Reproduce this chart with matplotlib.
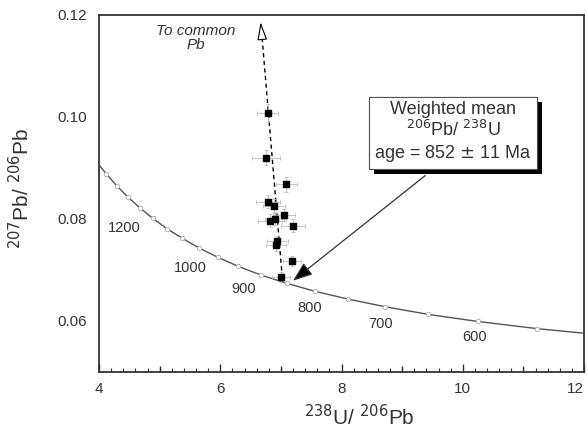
import matplotlib.pyplot as plt
import matplotlib.patheffects as pe
from matplotlib.ticker import MultipleLocator, FixedLocator

plt.rcParams['font.family'] = ['Liberation Sans', 'DejaVu Sans']

# concordia curve (Tera-Wasserburg)
conc_x = [4.000, 4.123, 4.292, 4.476, 4.673, 4.888, 5.120, 5.375, 5.653, 5.959,
          6.298, 6.674, 7.095, 7.568, 8.105, 8.718, 9.426, 10.252, 11.228, 12.000]
conc_y = [0.0906, 0.0888, 0.0865, 0.0843, 0.0822, 0.0801, 0.0781, 0.0762, 0.0743, 0.0725,
          0.0707, 0.0690, 0.0674, 0.0658, 0.0643, 0.0628, 0.0613, 0.0599, 0.0585, 0.0576]
# age ticks every 50 Ma (indices 1..18 of the curve)
tick_idx = list(range(1, 19))

age_labels = ['1200', '1000', '900', '800', '700', '600']
age_lab_x = [4.41, 5.50, 6.38, 7.47, 8.65, 10.19]
age_lab_y = [0.0783, 0.0704, 0.0663, 0.0626, 0.0594, 0.0568]

# zircon analyses
pt_x = [6.78, 6.76, 7.09, 6.79, 6.89, 7.05, 6.82, 6.91, 7.20, 6.94, 6.92, 7.18, 7.00]
pt_y = [0.1008, 0.0920, 0.0868, 0.0834, 0.0826, 0.0808, 0.0797, 0.0800, 0.0787, 0.0756,
        0.0749, 0.0717, 0.0687]
pt_xerr = [0.18, 0.23, 0.17, 0.20, 0.18, 0.18, 0.20, 0.18, 0.20, 0.17, 0.17, 0.15, 0.15]
pt_yerr = [0.0018, 0.0015, 0.0015, 0.0013, 0.0013, 0.0012, 0.0012, 0.0012, 0.0012, 0.0011,
           0.0011, 0.0010, 0.0010]

# regression line to common Pb
reg_x = [6.69, 7.03]
reg_y = [0.1155, 0.0675]

fig = plt.figure(figsize=(5.87, 4.33), dpi=100)
ax = fig.add_axes([0.1687, 0.1409, 0.8262, 0.8245])

gray = '#333333'
ax.plot(conc_x, conc_y, color='#555555', lw=1.0, zorder=2)
ax.plot([conc_x[i] for i in tick_idx], [conc_y[i] for i in tick_idx], 'o', ms=3.2,
        mfc='white', mec='#aaaaaa', mew=0.6, ls='none', zorder=3)
for lab, lx, ly in zip(age_labels, age_lab_x, age_lab_y):
    ax.text(lx, ly, lab, fontsize=10.5, color=gray, ha='center', va='center')

ax.plot(reg_x, reg_y, ls=(0, (3, 2.5)), color='black', lw=1.0, zorder=2)
ax.annotate('', xy=(6.665, 0.1186), xytext=(6.69, 0.1155),
            arrowprops=dict(arrowstyle='-|>,head_length=1.1,head_width=0.3',
                            fc='white', ec='black', lw=0.8, shrinkA=0, shrinkB=0))
ax.text(5.60, 0.1155, 'To common\nPb', fontsize=11, style='italic', color=gray,
        ha='center', va='center', linespacing=0.95)

ax.errorbar(pt_x, pt_y, xerr=pt_xerr, yerr=pt_yerr, fmt='none', ecolor='#bbbbbb',
            elinewidth=0.6, capsize=1.5, capthick=0.6, zorder=3)
ax.plot(pt_x, pt_y, 's', ms=5, color='black', ls='none', zorder=4)

t = ax.text(9.84, 0.0970, 'Weighted mean\n$^{206}$Pb/ $^{238}$U\nage = 852 $\\pm$ 11 Ma',
            fontsize=13, color=gray, ha='center', va='center', linespacing=1.15,
            bbox=dict(boxstyle='square,pad=0.3', fc='white', ec='#555555', lw=0.8))
t.get_bbox_patch().set_path_effects([
    pe.withSimplePatchShadow(offset=(3.5, -3.5), shadow_rgbFace='black', alpha=1.0),
    pe.Normal()])
ax.annotate('', xy=(7.20, 0.0679), xytext=(9.38, 0.0885),
            arrowprops=dict(arrowstyle='-|>,head_length=1.2,head_width=0.45',
                            fc='black', ec='#333333', lw=0.9, shrinkA=0, shrinkB=0))

ax.set_xlim(4, 12)
ax.set_ylim(0.05, 0.12)
ax.xaxis.set_major_locator(FixedLocator([4, 6, 8, 10, 12]))
ax.xaxis.set_minor_locator(MultipleLocator(0.2))
ax.set_yticks([0.06, 0.08, 0.10, 0.12])
ax.set_yticklabels(['0.06', '0.08', '0.10', '0.12'])
ax.tick_params(axis='x', which='major', direction='in', length=6, width=1, pad=7,
               labelsize=11, labelcolor=gray, color=gray)
ax.tick_params(axis='x', which='minor', direction='in', length=3, width=0.8, color=gray)
ax.tick_params(axis='y', which='both', length=0, pad=9, labelsize=11, labelcolor=gray)
# extra tick marks at odd integers
ax.vlines([5, 7, 9, 11], 0.05, 0.05 + 0.07 * 6 / 357, color=gray, lw=1)
# last label sits against the figure edge
ax.get_xticklabels()[-1].set_horizontalalignment('right')

for s in ax.spines.values():
    s.set_color(gray)
    s.set_linewidth(1.3)

ax.set_xlabel('$^{238}$U/ $^{206}$Pb', fontsize=15, color=gray)
ax.set_ylabel('$^{207}$Pb/ $^{206}$Pb', fontsize=15, color=gray)
ax.xaxis.set_label_coords(0.536, -0.09)
ax.yaxis.set_label_coords(-0.135, 0.515)

fig.savefig('out.png', dpi=100)
